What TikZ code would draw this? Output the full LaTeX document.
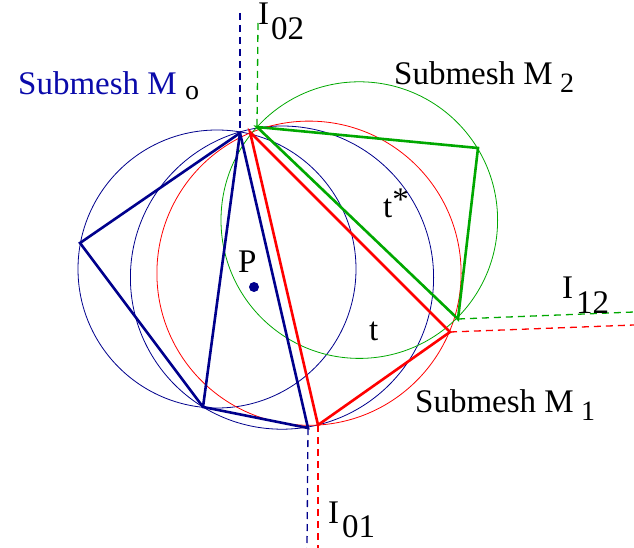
\documentclass[tikz,border=0pt]{standalone}
\usepackage{fontspec}
\setmainfont{Liberation Serif}
\usetikzlibrary{calc}
\definecolor{mblue}{RGB}{0,0,140}
\definecolor{mred}{RGB}{255,0,0}
\definecolor{mgreen}{RGB}{0,168,0}
\definecolor{tblue}{RGB}{10,10,170}
\begin{document}
\begin{tikzpicture}[x=1pt,y=-1pt,
  mesh/.style={line width=2.6pt, line join=miter},
  circ/.style={line width=0.8pt},
  iface/.style={dash pattern=on 7pt off 5pt, line width=1.3pt},
  big/.style={font=\fontsize{33}{40}\selectfont, inner sep=0pt, anchor=base west},
  sub/.style={font=\fontsize{28}{34}\selectfont, inner sep=0pt, anchor=base west}]
\useasboundingbox (0,0) rectangle (634,548);
% vertices
\coordinate (A0) at (240,133);
\coordinate (L) at (80,243);
\coordinate (B) at (203,407);
\coordinate (C) at (308,428);
\coordinate (A1) at (250,132);
\coordinate (C1) at (318,425);
\coordinate (R) at (450,332);
\coordinate (A2) at (257,127);
\coordinate (G) at (478,148);
\coordinate (H) at (458,319);
% interface ends
\coordinate (b0t) at (240,13);
\coordinate (g0t) at (258,23);
\coordinate (b0b) at (307,548);
\coordinate (r0b) at (318,548);
\coordinate (g2r) at (634,312);
\coordinate (r2r) at (634,325);
% circles
\draw[circ, mblue] (217,269) circle (139);
\draw[circ, mblue] (282,277.6) circle (151.6);
\draw[circ, mred] (309,273.2) circle (152.1);
\draw[circ, mgreen] (359.3,220.1) circle (138.3);
% interfaces
\draw[iface, mblue] (b0t) -- (A0);
\draw[iface, mgreen] (g0t) -- (A2);
\draw[iface, mblue] (C) -- (b0b);
\draw[iface, mred] (C1) -- (r0b);
\draw[iface, mgreen] (H) -- (g2r);
\draw[iface, mred] (R) -- (r2r);
% meshes
\draw[mesh, mblue] (A0) -- (L) -- (B) -- (C) -- cycle;
\draw[mesh, mblue] (A0) -- (B);
\draw[mesh, mred] (A1) -- (C1) -- (R) -- cycle;
\draw[mesh, mgreen] (A2) -- (G) -- (H) -- cycle;
% point P
\fill[mblue] (254,287) circle (5);
% labels
\node[big, text=tblue] (m0) at (18,95) {Submesh M};
\node[sub] (m0s) at ($(m0.base east)+(8,5)$) {o};
\node[big] (m2) at (394,85) {Submesh M};
\node[sub] (m2s) at ($(m2.base east)+(7,8)$) {2};
\node[big] (m1) at (415,412) {Submesh M};
\node[sub] (m1s) at ($(m1.base east)+(7,8)$) {1};
\node[big] (i02) at (258,25) {I};
\node[big] (i02s) at (271,40) {02};
\node[big] (i01) at (328,523) {I};
\node[big] (i01s) at (342,537) {01};
\node[big] (i12) at (562,298) {I};
\node[big] (i12s) at (576,313) {12};
\node[big] (p) at (238,272) {P};
\node[big] (t) at (369,340) {t};
\node[big] (ts) at (383,217) {t\raisebox{7pt}{*}};
\end{tikzpicture}
\end{document}
